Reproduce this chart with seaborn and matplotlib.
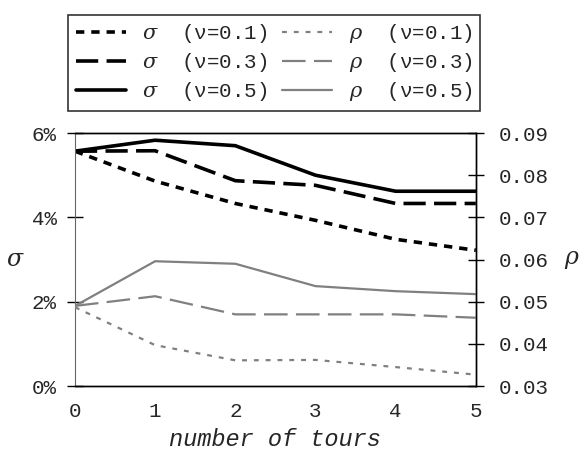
import matplotlib
matplotlib.use("Agg")
import matplotlib.pyplot as plt
import seaborn as sns
from matplotlib.ticker import FuncFormatter

tours = [0, 1, 2, 3, 4, 5]
sigma_v01 = [5.57, 4.86, 4.33, 3.93, 3.48, 3.22]
sigma_v03 = [5.57, 5.58, 4.87, 4.76, 4.33, 4.33]
sigma_v05 = [5.57, 5.83, 5.70, 5.00, 4.62, 4.62]
rho_v01 = [0.0487, 0.0397, 0.0361, 0.0362, 0.0345, 0.0327]
rho_v03 = [0.0490, 0.0513, 0.0470, 0.0470, 0.0470, 0.0462]
rho_v05 = [0.0490, 0.0596, 0.0590, 0.0537, 0.0525, 0.0518]
labels_sigma = [r"$\sigma$  (ν=0.1)", r"$\sigma$  (ν=0.3)", r"$\sigma$  (ν=0.5)"]
labels_rho = [r"$\rho$  (ν=0.1)", r"$\rho$  (ν=0.3)", r"$\rho$  (ν=0.5)"]
left_ticks = [0, 2, 4, 6]
right_ticks = [0.03, 0.04, 0.05, 0.06, 0.07, 0.08, 0.09]

sns.set_style("white")
plt.rcParams["font.family"] = ["Liberation Mono", "DejaVu Sans Mono"]
plt.rcParams["mathtext.fontset"] = "dejavuserif"
plt.rcParams["lines.scale_dashes"] = False

fig = plt.figure(figsize=(5.81, 4.51), dpi=100)
ax = fig.add_axes([0.129, 0.144, 0.690, 0.561])
ax2 = ax.twinx()

sig_dash = [(0, (6, 5)), (0, (16, 6)), "-"]
rho_dash = [(0, (3.5, 5)), (0, (17, 6)), "-"]

for vals, ls, lab in zip([sigma_v01, sigma_v03, sigma_v05], sig_dash, labels_sigma):
    sns.lineplot(x=tours, y=vals, ax=ax, color="black", linewidth=2.6,
                 linestyle=ls, label=lab, legend=False)
for vals, ls, lab in zip([rho_v01, rho_v03, rho_v05], rho_dash, labels_rho):
    sns.lineplot(x=tours, y=vals, ax=ax2, color="#808080", linewidth=1.6,
                 linestyle=ls, label=lab, legend=False)

ax.set_xlim(0, 5)
ax.set_ylim(0, 6)
ax2.set_ylim(0.03, 0.09)
ax.set_xticks(tours)
ax.set_yticks(left_ticks)
ax.yaxis.set_major_formatter(FuncFormatter(lambda v, p: f"{int(v)}%"))
ax2.set_yticks(right_ticks)
ax2.yaxis.set_major_formatter(FuncFormatter(lambda v, p: f"{v:.2f}"))

for a in (ax, ax2):
    a.tick_params(direction="inout", length=11, width=1, labelsize=15, color="black")
    for s in a.spines.values():
        s.set_linewidth(1.0)
        s.set_color("black")
ax.spines["left"].set_color("#666666")
ax.spines["left"].set_linewidth(0.8)
ax2.spines["left"].set_visible(False)
ax.tick_params(axis="y", pad=7.5)
ax2.tick_params(axis="y", pad=11)
ax.tick_params(axis="x", pad=6)

ax.set_xlabel("number of tours", fontsize=17, style="italic", labelpad=5)
ax.set_ylabel(r"$\sigma$", fontsize=17, rotation=0, labelpad=12, va="center")
ax2.set_ylabel(r"$\rho$", fontsize=17, rotation=0, labelpad=17, va="center")

h1, l1 = ax.get_legend_handles_labels()
h2, l2 = ax2.get_legend_handles_labels()
leg = fig.legend(h1 + h2, l1 + l2, ncol=2, loc="center",
                 bbox_to_anchor=(0.472, 0.861), fontsize=15,
                 frameon=True, fancybox=False, edgecolor="black",
                 handlelength=2.4, handletextpad=0.8, columnspacing=0.7,
                 labelspacing=0.3, borderpad=0.35, borderaxespad=0)
leg.get_frame().set_linewidth(1.2)

fig.savefig("out.png", dpi=100)
